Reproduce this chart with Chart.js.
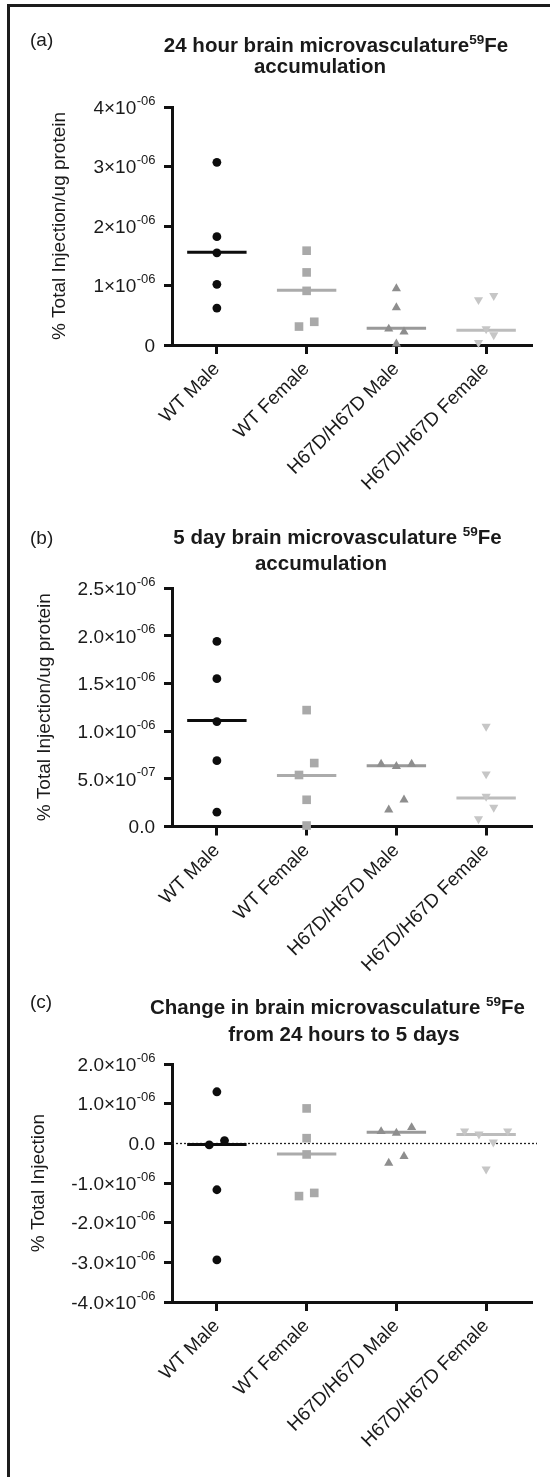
<!DOCTYPE html>
<html><head><meta charset="utf-8">
<script src="https://cdn.jsdelivr.net/npm/chart.js@4.4.0/dist/chart.umd.min.js"></script>
<style>
html,body{margin:0;padding:0;background:#fff;}
#wrap{position:relative;width:550px;height:1477px;overflow:hidden;background:#fff;}
canvas{position:absolute;left:0;}
#frameTop{position:absolute;left:7px;top:4px;width:543px;height:3px;background:#1c1c1c;}
#frameLeft{position:absolute;left:7px;top:4px;width:3px;height:1473px;background:#1c1c1c;}
</style></head>
<body><div id="wrap">
<canvas id="ca" width="550" height="560" style="top:0px"></canvas>
<canvas id="cb" width="550" height="560" style="top:480px"></canvas>
<canvas id="cc" width="550" height="517" style="top:960px"></canvas>
<div id="frameTop"></div><div id="frameLeft"></div>
</div>
<script>
// ---------- categories ----------
const categories = ["WT Male", "WT Female", "H67D/H67D Male", "H67D/H67D Female"];

// ---------- panel (a): 24 hour ----------
const aWTMale      = [3.07e-6, 1.82e-6, 1.55e-6, 1.02e-6, 0.62e-6];
const aWTFemale    = [1.585e-6, 1.22e-6, 0.91e-6, 0.39e-6, 0.31e-6];
const aH67DMale    = [0.95e-6, 0.63e-6, 0.27e-6, 0.22e-6, 0.02e-6];
const aH67DFemale  = [0.83e-6, 0.76e-6, 0.27e-6, 0.17e-6, 0.04e-6];
const aJitter = [[0,0,0,0,0],[0,0,0,0.085,-0.085],[0,0,-0.085,0.085,0],[0.085,-0.085,0,0.085,-0.085]];
const aMedians = [1.56e-6, 0.92e-6, 0.28e-6, 0.25e-6];
const aTickValues = [0, 1e-6, 2e-6, 3e-6, 4e-6];
const aTickLabels = [["0",""],["1×10","-06"],["2×10","-06"],["3×10","-06"],["4×10","-06"]];

// ---------- panel (b): 5 day ----------
const bWTMale      = [1.94e-6, 1.55e-6, 1.10e-6, 0.69e-6, 0.15e-6];
const bWTFemale    = [1.22e-6, 0.665e-6, 0.54e-6, 0.28e-6, 0.01e-6];
const bH67DMale    = [0.655e-6, 0.63e-6, 0.655e-6, 0.175e-6, 0.28e-6];
const bH67DFemale  = [1.05e-6, 0.55e-6, 0.315e-6, 0.20e-6, 0.08e-6];
const bJitter = [[0,0,0,0,0],[0,0.085,-0.085,0,0],[-0.17,0,0.17,-0.085,0.085],[0,0,0,0.085,-0.085]];
const bMedians = [1.11e-6, 0.535e-6, 0.637e-6, 0.30e-6];
const bTickValues = [0, 0.5e-6, 1.0e-6, 1.5e-6, 2.0e-6, 2.5e-6];
const bTickLabels = [["0.0",""],["5.0×10","-07"],["1.0×10","-06"],["1.5×10","-06"],["2.0×10","-06"],["2.5×10","-06"]];

// ---------- panel (c): change ----------
const cWTMale      = [1.30e-6, -0.04e-6, 0.07e-6, -1.17e-6, -2.94e-6];
const cWTFemale    = [0.88e-6, 0.13e-6, -0.28e-6, -1.33e-6, -1.25e-6];
const cH67DMale    = [0.30e-6, 0.26e-6, 0.40e-6, -0.50e-6, -0.33e-6];
const cH67DFemale  = [0.31e-6, 0.23e-6, 0.03e-6, 0.31e-6, -0.65e-6];
const cJitter = [[0,-0.085,0.085,0,0],[0,0,0,-0.085,0.085],[-0.17,0,0.17,-0.085,0.085],[-0.24,-0.08,0.08,0.24,0]];
const cMedians = [-0.03e-6, -0.27e-6, 0.28e-6, 0.22e-6];
const cTickValues = [-4e-6, -3e-6, -2e-6, -1e-6, 0, 1e-6, 2e-6];
const cTickLabels = [["-4.0×10","-06"],["-3.0×10","-06"],["-2.0×10","-06"],["-1.0×10","-06"],["0.0",""],["1.0×10","-06"],["2.0×10","-06"]];

// ---------- texts ----------
const panelLetters = ["(a)", "(b)", "(c)"];
const panelTitles = [
  ["24 hour brain microvasculature^59^Fe", "accumulation"],
  ["5 day brain microvasculature ^59^Fe", "accumulation"],
  ["Change in brain microvasculature ^59^Fe", "from 24 hours to 5 days"]
];
const yTitles = ["% Total Injection/ug protein", "% Total Injection/ug protein", "% Total Injection"];

// ---------- styles ----------
const FONT = '"Liberation Sans", Arial, Helvetica, sans-serif';
Chart.defaults.font.family = FONT;
const markerStyles = ['circle', 'rect', 'triangle', 'triangle'];
const markerRotations = [0, 0, 0, 180];
const markerRadii = [4.4, 6.1, 5.3, 5.3];
const markerColors = ['#0d0d0d', '#a9a9a9', '#8e8e8e', '#c6c6c6'];
const medianColors = ['#0d0d0d', '#ababab', '#999999', '#bcbcbc'];
const INK = '#1a1a1a';

function buildDatasets(groups, jitter, medians) {
  const ds = [];
  groups.forEach((vals, i) => {
    ds.push({
      label: categories[i],
      data: vals.map((v, k) => ({ x: i + jitter[i][k], y: v })),
      showLine: false,
      pointStyle: markerStyles[i],
      pointRotation: markerRotations[i],
      pointRadius: markerRadii[i],
      pointHoverRadius: markerRadii[i],
      pointBackgroundColor: markerColors[i],
      pointBorderColor: markerColors[i],
      pointBorderWidth: 0,
      clip: false,
      order: 1
    });
  });
  ds.push({
    label: 'Median',
    data: medians.map((m, i) => ({ x: i, y: m })),
    showLine: false,
    pointStyle: 'line',
    pointRadius: 29.7,
    pointHoverRadius: 29.7,
    pointBorderWidth: 3,
    pointBorderColor: medianColors,
    pointBackgroundColor: medianColors,
    clip: false,
    order: 2
  });
  return ds;
}

function drawRich(ctx, str, cx, baseline, size, supSize, raise, bold) {
  const parts = str.split('^');
  const w = bold ? 'bold ' : '';
  let total = 0;
  parts.forEach((p, i) => {
    ctx.font = w + (i % 2 ? supSize : size) + 'px ' + FONT;
    total += ctx.measureText(p).width;
  });
  let x = cx - total / 2;
  ctx.textAlign = 'left';
  ctx.textBaseline = 'alphabetic';
  parts.forEach((p, i) => {
    ctx.font = w + (i % 2 ? supSize : size) + 'px ' + FONT;
    ctx.fillText(p, x, i % 2 ? baseline - raise : baseline);
    x += ctx.measureText(p).width;
  });
}

function extraPlugin(spec) {
  return {
    id: 'extra_' + spec.id,
    beforeDatasetsDraw(chart) {
      if (!spec.zeroLine) return;
      const ctx = chart.ctx, y = chart.scales.y, area = chart.chartArea;
      const py = Math.round(y.getPixelForValue(0)) + 0.5;
      ctx.save();
      ctx.strokeStyle = '#222';
      ctx.lineWidth = 1.3;
      ctx.setLineDash([2, 2]);
      ctx.beginPath();
      ctx.moveTo(area.left, py);
      ctx.lineTo(area.right + 6, py);
      ctx.stroke();
      ctx.restore();
    },
    afterDraw(chart) {
      const ctx = chart.ctx, y = chart.scales.y;
      ctx.save();
      ctx.fillStyle = INK;
      spec.tickValues.forEach((v, i) => {
        const py = y.getPixelForValue(v);
        const main = spec.tickLabels[i][0], sup = spec.tickLabels[i][1];
        ctx.textAlign = 'left';
        ctx.textBaseline = 'alphabetic';
        ctx.font = '19px ' + FONT;
        const wm = ctx.measureText(main).width;
        ctx.font = '13px ' + FONT;
        const ws = sup ? ctx.measureText(sup).width : 0;
        const x0 = 155 - ws - wm;
        ctx.font = '19px ' + FONT;
        ctx.fillText(main, x0, py + 6.8);
        if (sup) {
          ctx.font = '13px ' + FONT;
          ctx.fillText(sup, x0 + wm + 0.5, py - 2.5);
        }
      });
      ctx.font = '19px ' + FONT;
      ctx.textAlign = 'left';
      ctx.fillText(spec.letter, 30, spec.letterY);
      spec.title.forEach((line, i) => {
        drawRich(ctx, line, spec.titleX[i], spec.titleY[i], 20.5, 13.5, 8, true);
      });
      ctx.restore();
    }
  };
}

function makeChart(spec) {
  return new Chart(document.getElementById(spec.id), {
    type: 'scatter',
    data: { datasets: buildDatasets(spec.groups, spec.jitter, spec.medians) },
    options: {
      responsive: false,
      animation: false,
      events: [],
      layout: { autoPadding: false, padding: { left: 0, right: 19, top: spec.top, bottom: 0 } },
      plugins: { legend: { display: false }, tooltip: { enabled: false } },
      scales: {
        x: {
          type: 'linear', min: -0.5, max: 3.5, z: 1,
          afterBuildTicks: s => { s.ticks = categories.map((c, i) => ({ value: i })); },
          afterFit: s => { s.height = spec.xHeight; },
          ticks: {
            callback: v => categories[v],
            minRotation: 45, maxRotation: 45, autoSkip: false,
            font: { size: 19 }, color: INK, padding: 4
          },
          grid: { drawOnChartArea: false, drawTicks: true, tickLength: 9, lineWidth: 3, color: '#111' },
          border: { display: true, width: 3, color: '#111' }
        },
        y: {
          type: 'linear', min: spec.tickValues[0], max: spec.tickValues[spec.tickValues.length - 1], z: 1,
          afterBuildTicks: s => { s.ticks = spec.tickValues.map(v => ({ value: v })); },
          afterFit: s => { s.width = 172; },
          ticks: { display: false },
          grid: { drawOnChartArea: false, drawTicks: true, tickLength: 8, lineWidth: 3, color: '#111' },
          border: { display: true, width: 3, color: '#111' },
          title: {
            display: true, text: spec.yTitle, color: INK,
            font: { size: 19 }, padding: { top: spec.yTitleX - 11.4, bottom: 0 }
          }
        }
      }
    },
    plugins: [extraPlugin(spec)]
  });
}

makeChart({
  id: 'ca', top: 107, xHeight: 215,
  groups: [aWTMale, aWTFemale, aH67DMale, aH67DFemale], jitter: aJitter, medians: aMedians,
  tickValues: aTickValues, tickLabels: aTickLabels,
  yTitle: yTitles[0], yTitleX: 60,
  letter: panelLetters[0], letterY: 46,
  title: panelTitles[0], titleX: [336, 320], titleY: [52, 73],
  zeroLine: false
});
makeChart({
  id: 'cb', top: 108, xHeight: 213.5,
  groups: [bWTMale, bWTFemale, bH67DMale, bH67DFemale], jitter: bJitter, medians: bMedians,
  tickValues: bTickValues, tickLabels: bTickLabels,
  yTitle: yTitles[1], yTitleX: 45,
  letter: panelLetters[1], letterY: 64,
  title: panelTitles[1], titleX: [337.5, 321], titleY: [64, 90],
  zeroLine: false
});
makeChart({
  id: 'cc', top: 104, xHeight: 175,
  groups: [cWTMale, cWTFemale, cH67DMale, cH67DFemale], jitter: cJitter, medians: cMedians,
  tickValues: cTickValues, tickLabels: cTickLabels,
  yTitle: yTitles[2], yTitleX: 38.5,
  letter: panelLetters[2], letterY: 48,
  title: panelTitles[2], titleX: [337.5, 344], titleY: [54, 81],
  zeroLine: true
});
</script>
</body></html>
